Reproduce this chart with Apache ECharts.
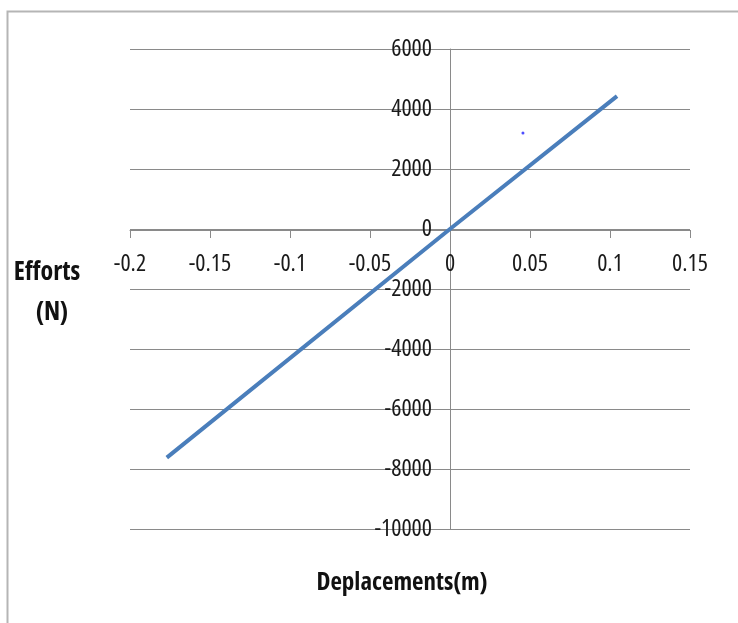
<!DOCTYPE html>
<html>
<head>
<meta charset="utf-8">
<script src="https://cdn.jsdelivr.net/npm/echarts@6/dist/echarts.min.js"></script>
<style>
html,body{margin:0;padding:0;background:#fff;}
#c{width:738px;height:623px;}
</style>
</head>
<body>
<div id="c"></div>
<script>
// Data
var lineX = [-0.177, 0, 0.1044];
var lineY = [-7620, 0, 4430];
var dotX = [0.0456];
var dotY = [3200];
var xTicks = [-0.2, -0.15, -0.1, -0.05, 0, 0.05, 0.1, 0.15];
var yTicks = [-10000, -8000, -6000, -4000, -2000, 0, 2000, 4000, 6000];
var xTitle = 'Deplacements(m)';
var yTitle = ['Efforts', '(N)'];

var FONT = "'Open Sans', sans-serif";
var chart = echarts.init(document.getElementById('c'));
var lineData = lineX.map(function (x, i) { return [x, lineY[i]]; });
var dotData = dotX.map(function (x, i) { return [x, dotY[i]]; });

chart.setOption({
  animation: false,
  backgroundColor: '#fff',
  grid: { left: 130, right: 48, top: 49, bottom: 94, containLabel: false },
  xAxis: {
    type: 'value', position: 'bottom', offset: -299,
    min: xTicks[0], max: xTicks[xTicks.length - 1], interval: 0.05,
    axisLine: { onZero: false, lineStyle: { color: '#8a8a8a', width: 1 } },
    axisTick: { show: true, length: 8, lineStyle: { color: '#8a8a8a' } },
    splitLine: { show: false },
    axisLabel: {
      margin: 22, color: '#1a1a1a', fontFamily: FONT, fontStyle: 'condensed', fontSize: 24,
      showMinLabel: true, showMaxLabel: true,
      formatter: function (v) { return String(+v.toFixed(2)); }
    }
  },
  yAxis: {
    type: 'value', position: 'left', offset: -320,
    min: yTicks[0], max: yTicks[yTicks.length - 1], interval: 2000,
    axisLine: { show: true, onZero: false, lineStyle: { color: '#8a8a8a', width: 1 } },
    axisTick: { show: false },
    splitLine: { show: true, lineStyle: { color: '#8a8a8a', width: 1 } },
    axisLabel: {
      margin: 18, color: '#1a1a1a', fontFamily: FONT, fontStyle: 'condensed', fontSize: 24,
      showMinLabel: true, showMaxLabel: true,
      formatter: function (v) { return String(v); }
    }
  },
  graphic: [
    { type: 'rect', left: 5, top: 9, silent: true,
      shape: { width: 800, height: 700 },
      style: { fill: 'none', stroke: '#b5b5b5', lineWidth: 2 } },
    { type: 'text', x: 47, y: 273, silent: true,
      style: { text: yTitle[0], font: 'condensed bold 26px ' + FONT, fill: '#111', align: 'center', verticalAlign: 'middle' } },
    { type: 'text', x: 52, y: 313, silent: true,
      style: { text: yTitle[1], font: 'condensed bold 26px ' + FONT, fill: '#111', align: 'center', verticalAlign: 'middle' } },
    { type: 'text', x: 402, y: 583, silent: true,
      style: { text: xTitle, font: 'condensed bold 25px ' + FONT, fill: '#111', align: 'center', verticalAlign: 'middle' } }
  ],
  series: [
    { type: 'line', data: lineData, showSymbol: false, symbol: 'none',
      lineStyle: { color: '#4a7ebb', width: 4 }, z: 3 },
    { type: 'scatter', data: dotData, symbol: 'circle', symbolSize: 3,
      itemStyle: { color: '#2020ff' }, z: 4 }
  ]
});
</script>
</body>
</html>
